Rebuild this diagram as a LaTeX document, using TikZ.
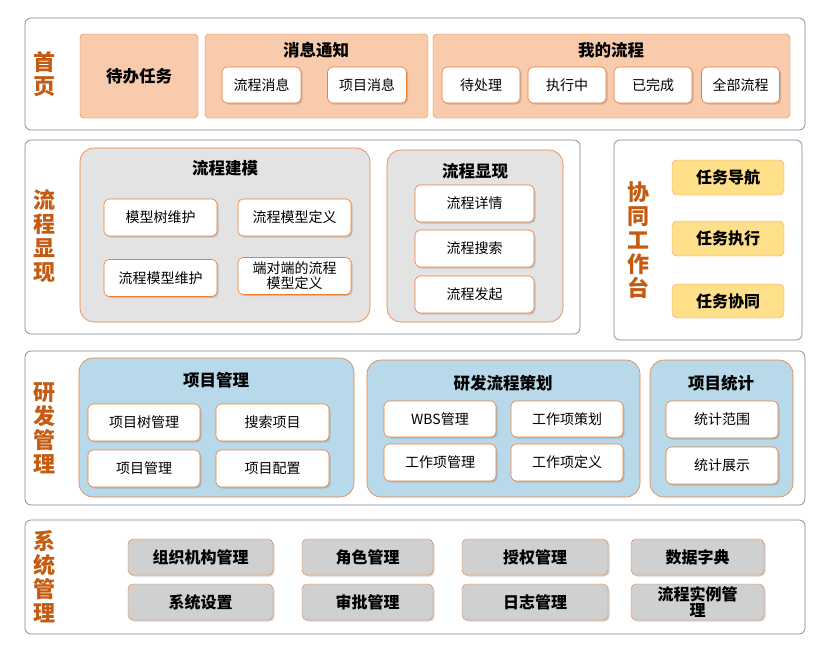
\documentclass[tikz,border=0pt]{standalone}
\usepackage{fontspec}
\setmainfont{Noto Sans CJK SC}
\usetikzlibrary{shadows}
\definecolor{lab}{HTML}{C55A11}
\definecolor{org}{HTML}{ED7D31}
\definecolor{peach}{HTML}{F8CBAD}
\definecolor{gr}{HTML}{E3E3E3}
\definecolor{gbx}{HTML}{D0D0D0}
\definecolor{blu}{HTML}{B8D9EA}
\definecolor{yel}{HTML}{FFE08A}
\definecolor{frame}{HTML}{44546A}
\begin{document}
\begin{tikzpicture}[x=1pt,y=-1pt,
 panel/.style={draw=frame!70,fill=white,rounded corners=6pt,line width=0.7pt},
 grp/.style={draw=org,rounded corners=14pt,line width=0.6pt},
 sub/.style={draw=org,fill=white,rounded corners=5pt,line width=0.6pt,drop shadow={shadow xshift=1.5pt,shadow yshift=-1.5pt,opacity=0.35},font=\fontsize{14}{15}\selectfont,align=center},
 ttl/.style={font=\bfseries\fontsize{16.5}{18}\selectfont},
 lbl/.style={text=lab,font=\bfseries\fontsize{22}{24}\selectfont,align=center},
 yb/.style={draw=org!80,fill=yel,rounded corners=5pt,font=\bfseries\fontsize{16}{17}\selectfont},
 gb/.style={draw=org,fill=gbx,rounded corners=5pt,drop shadow={shadow xshift=1.5pt,shadow yshift=-1.5pt,opacity=0.35},font=\bfseries\fontsize{16}{16}\selectfont,align=center}]
\useasboundingbox (0,0) rectangle (831,653);
% Row 1
\draw[panel] (25,18) rectangle (805,130);
\node[lbl] (l1) at (45,74) {首\\页};
\node[draw=org,fill=peach,rounded corners=4pt,minimum width=118pt,minimum height=84pt,ttl] (dbrw) at (139,76) {待办任务};
\draw[draw=org,fill=peach,rounded corners=4pt] (205,34) rectangle (428,118);
\node[ttl] (xxtz) at (316,50) {消息通知};
\node[sub,minimum width=79pt,minimum height=36pt] (lcxx) at (261.5,85) {流程消息};
\node[sub,minimum width=79pt,minimum height=36pt] (xmxx) at (367,85) {项目消息};
\draw[draw=org,fill=peach,rounded corners=4pt] (433,34) rectangle (790,118);
\node[ttl] (wdlc) at (611,50) {我的流程};
\foreach \x/\t/\n in {481/待处理/a,567/执行中/b,653/已完成/c,740.5/全部流程/d}
 \node[sub,minimum width=78pt,minimum height=36pt] (w\n) at (\x,85) {\t};
% Row 2
\draw[panel] (25,140) rectangle (580,334);
\node[lbl] (l2) at (45,236) {流\\程\\显\\现};
\draw[grp,fill=gr] (80,148) rectangle (370,322);
\node[ttl] (lcjm) at (225,168) {流程建模};
\node[sub,minimum width=113pt,minimum height=37pt] (m1) at (160.5,217.5) {模型树维护};
\node[sub,minimum width=113pt,minimum height=37pt] (m2) at (294.5,217.5) {流程模型定义};
\node[sub,minimum width=113pt,minimum height=37pt] (m3) at (160.5,278) {流程模型维护};
\node[sub,minimum width=113pt,minimum height=37pt,font=\fontsize{14}{15}\selectfont] (m4) at (294.5,276) {端对端的流程\\模型定义};
\draw[grp,fill=gr] (387,150) rectangle (563,322);
\node[ttl] (lcxs) at (475,171) {流程显现};
\node[sub,minimum width=119pt,minimum height=37pt] (s1) at (474.5,203.5) {流程详情};
\node[sub,minimum width=119pt,minimum height=37pt] (s2) at (474.5,248.5) {流程搜索};
\node[sub,minimum width=119pt,minimum height=37pt] (s3) at (474.5,294.5) {流程发起};
\draw[panel] (614,140) rectangle (802,340);
\node[lbl] (l3) at (638,240) {协\\同\\工\\作\\台};
\node[yb,minimum width=112pt,minimum height=35pt] (y1) at (728,177.5) {任务导航};
\node[yb,minimum width=112pt,minimum height=35pt] (y2) at (728,238.5) {任务执行};
\node[yb,minimum width=112pt,minimum height=34pt] (y3) at (728,301) {任务协同};
% Row 3
\draw[panel] (25,351) rectangle (805,505);
\node[lbl] (l4) at (45,428) {研\\发\\管\\理};
\draw[grp,fill=blu] (79,358) rectangle (354,497);
\node[ttl] (xmgl) at (216,380) {项目管理};
\node[sub,minimum width=112pt,minimum height=37pt] (p1) at (144,422.5) {项目树管理};
\node[sub,minimum width=113pt,minimum height=37pt] (p2) at (272.5,422.5) {搜索项目};
\node[sub,minimum width=112pt,minimum height=37pt] (p3) at (144,468.5) {项目管理};
\node[sub,minimum width=113pt,minimum height=37pt] (p4) at (272.5,468.5) {项目配置};
\draw[grp,fill=blu] (367,360) rectangle (640,497);
\node[ttl] (yflc) at (503,383) {研发流程策划};
\node[sub,minimum width=112pt,minimum height=36pt] (r1) at (440,419) {WBS管理};
\node[sub,minimum width=112pt,minimum height=36pt] (r2) at (567,419) {工作项策划};
\node[sub,minimum width=112pt,minimum height=37pt] (r3) at (440,462.5) {工作项管理};
\node[sub,minimum width=112pt,minimum height=37pt] (r4) at (567,462.5) {工作项定义};
\draw[grp,fill=blu] (650,360) rectangle (793,497);
\node[ttl] (xmtj) at (721,383) {项目统计};
\node[sub,minimum width=112pt,minimum height=37pt] (t1) at (722,419.5) {统计范围};
\node[sub,minimum width=112pt,minimum height=37pt] (t2) at (722,465.5) {统计展示};
% Row 4
\draw[panel] (25,520) rectangle (805,634);
\node[lbl] (l5) at (45,577) {系\\统\\管\\理};
\node[gb,minimum width=145pt,minimum height=36pt] (g1) at (200.5,557) {组织机构管理};
\node[gb,minimum width=131pt,minimum height=36pt] (g2) at (367.5,557) {角色管理};
\node[gb,minimum width=146pt,minimum height=36pt] (g3) at (535,557) {授权管理};
\node[gb,minimum width=133pt,minimum height=36pt] (g4) at (697.5,557) {数据字典};
\node[gb,minimum width=145pt,minimum height=36pt] (g5) at (200.5,602) {系统设置};
\node[gb,minimum width=131pt,minimum height=36pt] (g6) at (367.5,602) {审批管理};
\node[gb,minimum width=146pt,minimum height=36pt] (g7) at (535,602) {日志管理};
\node[gb,minimum width=133pt,minimum height=36pt,inner sep=1pt] (g8) at (697.5,602) {流程实例管\\理};
\end{tikzpicture}
\end{document}
